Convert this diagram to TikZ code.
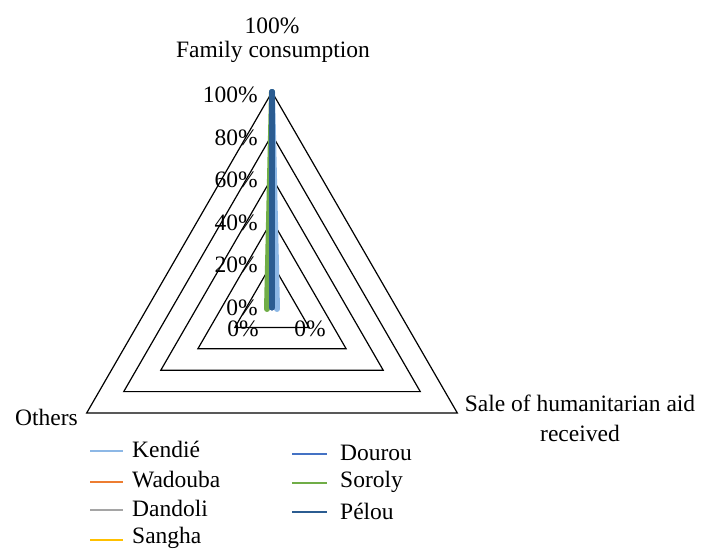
\documentclass[tikz,border=0pt]{standalone}
\usepackage{fontspec}
\setmainfont{Liberation Serif}
\usetikzlibrary{calc}
\definecolor{kendie}{HTML}{8DB8E6}
\definecolor{wadouba}{HTML}{ED7D31}
\definecolor{dandoli}{HTML}{A5A5A5}
\definecolor{sangha}{HTML}{FFC000}
\definecolor{dourou}{HTML}{4472C4}
\definecolor{soroly}{HTML}{70AD47}
\definecolor{pelou}{HTML}{2B5C91}
\tikzset{
  ring/.style={draw=black, line width=1.2pt, line join=miter},
  series/.style={line width=6pt, line cap=round},
  lab/.style={inner sep=0pt, font=\fontsize{23.5}{27}\selectfont},
  legline/.style={line width=1.2pt},
}
\begin{document}
\begin{tikzpicture}[x=1pt,y=-1pt]
\useasboundingbox (0,0) rectangle (701,552);
\coordinate (c) at (272,306);
% rings
\foreach \k in {1,...,5}{
  \draw[ring] ($(c)+(-90:{42.8*\k})$) -- ($(c)+(30:{42.8*\k})$) -- ($(c)+(150:{42.8*\k})$) -- cycle;
}
\coordinate (apex) at ($(c)+(-90:214)$);
\coordinate (kend) at (277,309);
\coordinate (soro) at (267,309);
\coordinate (pend) at (272,307.5);
% series
\draw[series, kendie] (apex) -- (kend);
\draw[series, soroly] (apex) -- (soro);
\draw[series, dourou] (apex) -- (pend);
\draw[series, pelou] (apex) -- (pend);
% axis labels
\node[lab, anchor=east] (a100) at (258,95) {100\%};
\node[lab, anchor=east] (a80) at (258,138) {80\%};
\node[lab, anchor=east] (a60) at (258,180) {60\%};
\node[lab, anchor=east] (a40) at (258,223) {40\%};
\node[lab, anchor=east] (a20) at (258,265) {20\%};
\node[lab, anchor=east] (a0) at (258,308) {0\%};
% data labels
\node[lab] (d1) at (243,329) {0\%};
\node[lab] (d2) at (310,329) {0\%};
\node[lab] (top1) at (272,26) {100\%};
\node[lab] (top2) at (273,52) {Family consumption};
\node[lab, anchor=east] (oth) at (78,417) {Others};
\node[lab, align=center] (sale) at (580,418) {Sale of humanitarian aid\\[3pt]received};
% legend
\foreach \name/\col/\y in {Kendié/kendie/451, Wadouba/wadouba/482, Dandoli/dandoli/510, Sangha/sangha/540}{
  \coordinate (l\col a) at (90,\y);
  \coordinate (l\col b) at (123,\y);
  \draw[legline, \col] (l\col a) -- (l\col b);
  \node[lab, anchor=west] (t\col) at (132,\y-2) {\name};
}
\foreach \name/\col/\y in {Dourou/dourou/454, Soroly/soroly/483, Pélou/pelou/512}{
  \coordinate (l\col a) at (292,\y);
  \coordinate (l\col b) at (327,\y);
  \draw[legline, \col] (l\col a) -- (l\col b);
  \node[lab, anchor=west] (t\col) at (340,\y-1) {\name};
}
\end{tikzpicture}
\end{document}
